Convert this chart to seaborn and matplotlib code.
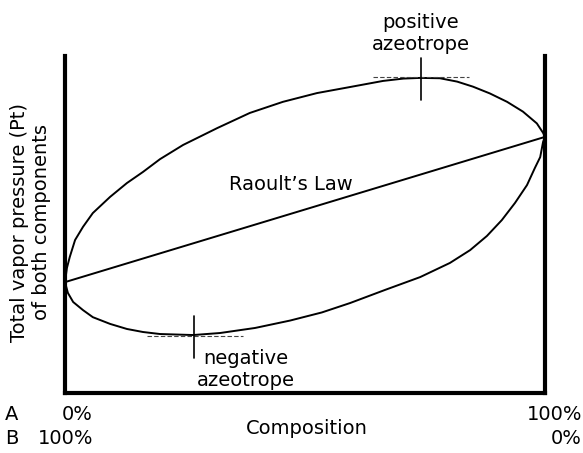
import numpy as np
import pandas as pd
import seaborn as sns
import matplotlib.pyplot as plt

# Composition of A (%) vs total vapor pressure (arbitrary units)
upper_x = [0, 0.4, 1.0, 2.1, 3.75, 5.8, 9.4, 12.9, 16.25, 19.8, 24.6, 31.7, 38.5, 45.4,
           52.5, 59.4, 66.25, 70.5, 74.0, 78.1, 81.7, 85.0, 88.5, 92.1, 95.4, 98.3, 99.6, 100]
upper_y = [32.9, 37.1, 40.4, 45.4, 49.3, 53.4, 58.2, 62.3, 65.6, 69.4, 73.6, 78.6, 83.1, 86.4,
           89.0, 90.8, 92.6, 93.3, 93.5, 93.4, 92.4, 90.9, 88.9, 86.4, 83.5, 80.0, 77.2, 76.0]

lower_x = [0, 0.6, 1.7, 3.75, 5.8, 9.4, 12.9, 16.25, 19.8, 26.7, 32.3, 39.6, 46.9, 53.5, 59.4,
           66.7, 74.0, 80.2, 84.4, 87.9, 91.0, 93.75, 96.25, 97.9, 99.0, 99.6, 100]
lower_y = [32.9, 29.7, 27.0, 24.6, 22.5, 20.5, 19.0, 18.1, 17.5, 17.2, 17.8, 19.3, 21.5, 23.9, 26.7,
           30.6, 34.4, 38.6, 42.4, 46.6, 51.3, 56.4, 61.7, 66.8, 70.0, 74.5, 76.0]

raoult_x = [0, 100]
raoult_y = [32.9, 76.0]

# azeotrope markers (composition, pressure)
pos_azeo = (74.2, 93.8)
neg_azeo = (26.9, 16.9)

W, H = 583, 453
sns.set_style("white")
plt.rcParams['font.family'] = ['DejaVu Sans']
plt.rcParams['text.color'] = 'black'

fig = plt.figure(figsize=(W / 100, H / 100), dpi=100)
ax = fig.add_axes([65 / W, (H - 393) / H, (545 - 65) / W, (393 - 56) / H])

curves = pd.concat([
    pd.DataFrame({'x': upper_x, 'y': upper_y, 'curve': 'upper'}),
    pd.DataFrame({'x': lower_x, 'y': lower_y, 'curve': 'lower'}),
    pd.DataFrame({'x': raoult_x, 'y': raoult_y, 'curve': 'raoult'}),
])
sns.lineplot(data=curves, x='x', y='y', units='curve', estimator=None, sort=False,
             color='black', linewidth=1.4, ax=ax)

# azeotrope dashes and ticks
px, py = pos_azeo
ax.plot([px - 10, px + 10], [py, py], color='#444444', linestyle=(0, (4, 2)), linewidth=0.8)
ax.plot([px, px], [py - 7, py + 5.6], color='black', linewidth=1.2, clip_on=False)
nx, ny = neg_azeo
ax.plot([nx - 9.8, nx + 10.2], [ny, ny], color='#444444', linestyle=(0, (4, 2)), linewidth=0.8)
ax.plot([nx, nx], [ny - 6.5, ny + 5.9], color='black', linewidth=1.2)

ax.set_xlim(0, 100)
ax.set_ylim(0, 100)
ax.set_xticks([])
ax.set_yticks([])
ax.set_xlabel('')
ax.set_ylabel('')
ax.spines['top'].set_visible(False)
for s in ['left', 'right', 'bottom']:
    ax.spines[s].set_linewidth(3)
    ax.spines[s].set_color('black')

fs = 14

def ft(x, y, s, **kw):
    fig.text(x / W, 1 - y / H, s, fontsize=fs, va='center', **kw)

ft(291, 185, 'Raoult\u2019s Law', ha='center')
ft(421, 34, 'positive\nazeotrope', ha='center', linespacing=1.2)
ft(246, 369, 'negative\nazeotrope', ha='center', linespacing=1.2)

ft(31, 222, 'Total vapor pressure (Pt)\nof both components', rotation=90,
   ha='center', linespacing=1.2, multialignment='center')
ft(5, 414, 'A', ha='left')
ft(5, 439, 'B', ha='left')
ft(93, 414, '0%', ha='right')
ft(93, 439, '100%', ha='right')
ft(307, 428, 'Composition', ha='center')
ft(582, 414, '100%', ha='right')
ft(582, 439, '0%', ha='right')

fig.savefig('out.png', dpi=100)
